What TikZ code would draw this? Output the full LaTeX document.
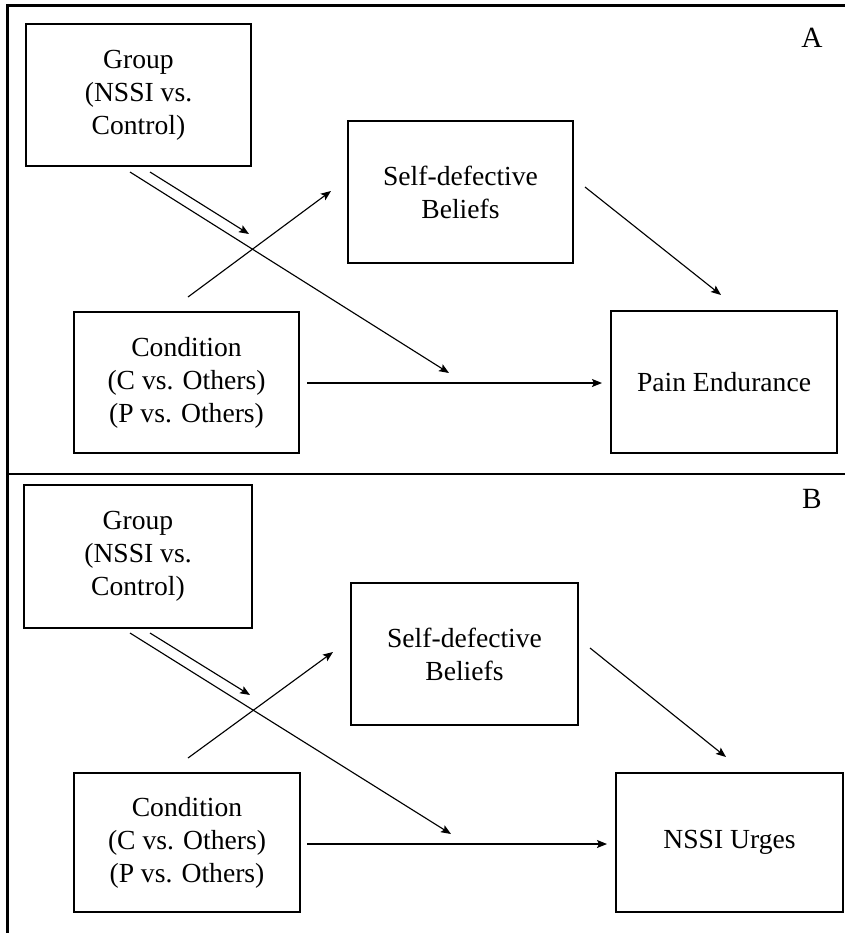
\documentclass[tikz,border=0pt]{standalone}
\usepackage{fontspec}
\setmainfont{Liberation Serif}
\usetikzlibrary{arrows.meta}
\tikzset{
  x=0.75pt, y=-0.75pt,
  box/.style 2 args={draw, line width=1pt, rectangle, inner sep=0pt, align=center,
    minimum width=#1*0.75pt, minimum height=#2*0.75pt,
    font=\fontsize{20.7}{24.75}\selectfont},
  arr/.style={line width=0.85pt, -{Stealth[length=7.5pt,width=6pt,inset=1.5pt]}},
  frameline/.style={line width=1.6pt},
  plabel/.style={font=\fontsize{22}{26}\selectfont, inner sep=0pt}
}
\begin{document}
\begin{tikzpicture}
\useasboundingbox (0,0) rectangle (845,933);
% frame
\draw[frameline] (7.5,933) -- (7.5,5.5) -- (845,5.5);
\draw[frameline] (7.5,474) -- (845,474);

% ---------- Panel A ----------
\node[plabel] (labA) at (812,38) {A};
\node[box={225}{142}] (gA) at (138.5,95) {Group\\(NSSI vs.\\Control)};
\node[box={225}{142}] (sA) at (460.5,192) {Self-defective\\Beliefs};
\node[box={225}{141}] (cA) at (186.5,382.5) {Condition\\(C vs. Others)\\(P vs. Others)};
\node[box={226}{142}] (pA) at (724,382) {Pain Endurance};

\coordinate (gA1) at (130,172);
\coordinate (gA2) at (150,172);
\coordinate (mA1) at (449,373);
\coordinate (mA2) at (249,234);
\coordinate (cAu) at (188,297);
\coordinate (sAi) at (331,191);
\coordinate (sAo) at (585,187);
\coordinate (pAi) at (721,295);
\coordinate (cAo) at (307,383);
\coordinate (pAh) at (602,383);

\draw[arr] (gA1) -- (mA1);
\draw[arr] (gA2) -- (mA2);
\draw[arr] (cAu) -- (sAi);
\draw[arr] (sAo) -- (pAi);
\draw[arr] (cAo) -- (pAh);

% ---------- Panel B ----------
\node[plabel] (labB) at (812,499) {B};
\node[box={228}{143}] (gB) at (138,556.5) {Group\\(NSSI vs.\\Control)};
\node[box={227}{142}] (sB) at (464.5,654) {Self-defective\\Beliefs};
\node[box={226}{139}] (cB) at (187,842.5) {Condition\\(C vs. Others)\\(P vs. Others)};
\node[box={227}{139}] (nB) at (729.5,842.5) {NSSI Urges};

\coordinate (gB1) at (130,633);
\coordinate (gB2) at (150,633);
\coordinate (mB1) at (451,834);
\coordinate (mB2) at (250,695);
\coordinate (cBu) at (188,758);
\coordinate (sBi) at (333,652);
\coordinate (sBo) at (590,648);
\coordinate (nBi) at (726,757);
\coordinate (cBo) at (307,844);
\coordinate (nBh) at (607,844);

\draw[arr] (gB1) -- (mB1);
\draw[arr] (gB2) -- (mB2);
\draw[arr] (cBu) -- (sBi);
\draw[arr] (sBo) -- (nBi);
\draw[arr] (cBo) -- (nBh);
\end{tikzpicture}
\end{document}
